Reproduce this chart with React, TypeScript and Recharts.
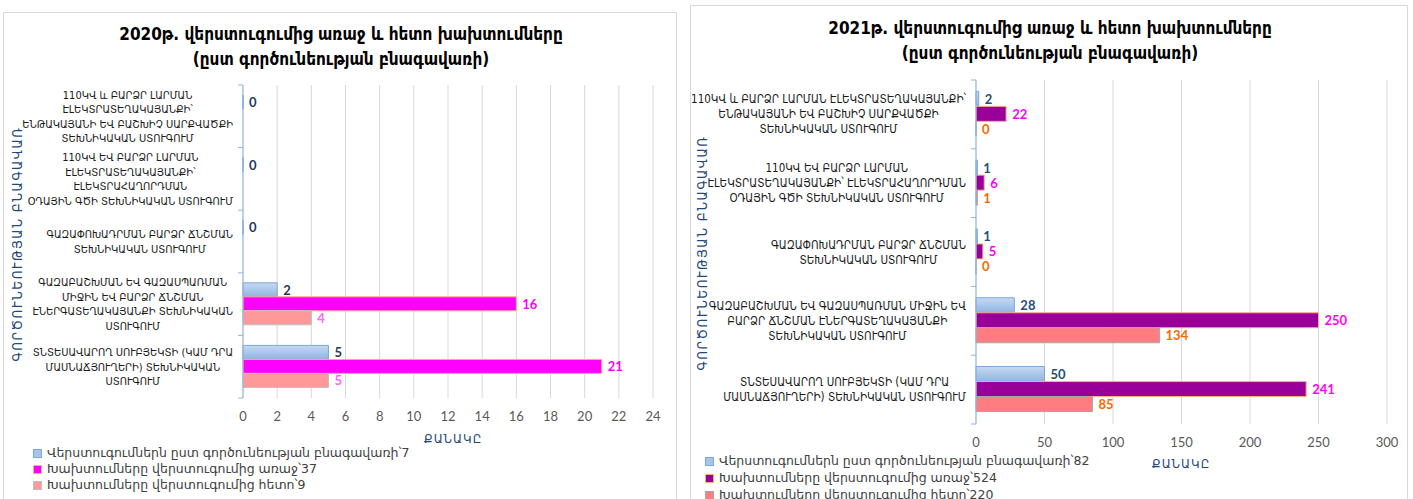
import React from 'react';
import { BarChart, Bar, XAxis, YAxis, CartesianGrid, LabelList } from 'recharts';

// ---------- DATA ----------
const categories2020 = [
  '110ԿՎ և ԲԱՐՁՐ ԼԱՐՄԱՆ\nԷԼԵԿՏՐԱՏԵՂԱԿԱՅԱՆՔԻ՝\nԵՆԹԱԿԱՅԱՆԻ ԵՎ ԲԱՇԽԻՉ ՍԱՐՔՎԱԾՔԻ\nՏԵԽՆԻԿԱԿԱՆ ՍՏՈՒԳՈՒՄ',
  '110ԿՎ ԵՎ ԲԱՐՁՐ ԼԱՐՄԱՆ\nԷԼԵԿՏՐԱՏԵՂԱԿԱՅԱՆՔԻ՝\nԷԼԵԿՏՐԱՀԱՂՈՐԴՄԱՆ\nՕԴԱՅԻՆ ԳԾԻ ՏԵԽՆԻԿԱԿԱՆ ՍՏՈՒԳՈՒՄ',
  'ԳԱԶԱՓՈԽԱԴՐՄԱՆ ԲԱՐՁՐ ՃՆՇՄԱՆ\nՏԵԽՆԻԿԱԿԱՆ ՍՏՈՒԳՈՒՄ',
  'ԳԱԶԱԲԱՇԽՄԱՆ ԵՎ ԳԱԶԱՍՊԱՌՄԱՆ\nՄԻՋԻՆ ԵՎ ԲԱՐՁՐ ՃՆՇՄԱՆ\nԷՆԵՐԳԱՏԵՂԱԿԱՅԱՆՔԻ ՏԵԽՆԻԿԱԿԱՆ\nՍՏՈՒԳՈՒՄ',
  'ՏՆՏԵՍԱՎԱՐՈՂ ՍՈՒԲՅԵԿՏԻ (ԿԱՄ ԴՐԱ\nՄԱՍՆԱՃՅՈՒՂԵՐԻ) ՏԵԽՆԻԿԱԿԱՆ\nՍՏՈՒԳՈՒՄ',
];
const categories2021 = [
  '110ԿՎ և ԲԱՐՁՐ ԼԱՐՄԱՆ ԷԼԵԿՏՐԱՏԵՂԱԿԱՅԱՆՔԻ՝\nԵՆԹԱԿԱՅԱՆԻ ԵՎ ԲԱՇԽԻՉ ՍԱՐՔՎԱԾՔԻ\nՏԵԽՆԻԿԱԿԱՆ ՍՏՈՒԳՈՒՄ',
  '110ԿՎ ԵՎ ԲԱՐՁՐ ԼԱՐՄԱՆ\nԷԼԵԿՏՐԱՏԵՂԱԿԱՅԱՆՔԻ՝ ԷԼԵԿՏՐԱՀԱՂՈՐԴՄԱՆ\nՕԴԱՅԻՆ ԳԾԻ ՏԵԽՆԻԿԱԿԱՆ ՍՏՈՒԳՈՒՄ',
  'ԳԱԶԱՓՈԽԱԴՐՄԱՆ ԲԱՐՁՐ ՃՆՇՄԱՆ\nՏԵԽՆԻԿԱԿԱՆ ՍՏՈՒԳՈՒՄ',
  'ԳԱԶԱԲԱՇԽՄԱՆ ԵՎ ԳԱԶԱՍՊԱՌՄԱՆ ՄԻՋԻՆ ԵՎ\nԲԱՐՁՐ ՃՆՇՄԱՆ ԷՆԵՐԳԱՏԵՂԱԿԱՅԱՆՔԻ\nՏԵԽՆԻԿԱԿԱՆ ՍՏՈՒԳՈՒՄ',
  'ՏՆՏԵՍԱՎԱՐՈՂ ՍՈՒԲՅԵԿՏԻ (ԿԱՄ ԴՐԱ\nՄԱՍՆԱՃՅՈՒՂԵՐԻ) ՏԵԽՆԻԿԱԿԱՆ ՍՏՈՒԳՈՒՄ',
];

const checks2020: (number | null)[] = [0, 0, 0, 2, 5];
const before2020: (number | null)[] = [null, null, null, 16, 21];
const after2020: (number | null)[] = [null, null, null, 4, 5];

const checks2021: (number | null)[] = [2, 1, 1, 28, 50];
const before2021: (number | null)[] = [22, 6, 5, 250, 241];
const after2021: (number | null)[] = [0, 1, 0, 134, 85];

const legend2020 = [
  'Վերստուգումներն ըստ գործունեության բնագավառի՝7',
  'Խախտումները վերստուգումից առաջ՝37',
  'Խախտումները վերստուգումից հետո՝9',
];
const legend2021 = [
  'Վերստուգումներն ըստ գործունեության բնագավառի՝82',
  'Խախտումները վերստուգումից առաջ՝524',
  'Խախտումները վերստուգումից հետո՝220',
];

const ticks2020 = [0, 2, 4, 6, 8, 10, 12, 14, 16, 18, 20, 22, 24];
const ticks2021 = [0, 50, 100, 150, 200, 250, 300];

const title2020 = ['2020թ. վերստուգումից առաջ և հետո խախտումները', '(ըստ գործունեության  բնագավառի)'];
const title2021 = ['2021թ. վերստուգումից առաջ և հետո խախտումները', '(ըստ գործունեության  բնագավառի)'];
const yTitle = 'ԳՈՐԾՈՒՆԵՈՒԹՅԱՆ ԲՆԱԳԱՎԱՌ';
const xTitle = 'ՔԱՆԱԿԸ';

// ---------- STYLE ----------
const ARM_FONT = '"DejaVu Sans Condensed", "DejaVu Sans", sans-serif';
const NUM_FONT = 'Lato, "Open Sans", sans-serif';

let measureCtx: CanvasRenderingContext2D | null = null;
function measure(text: string, font: string): number {
  if (!measureCtx) {
    const c = document.createElement('canvas');
    measureCtx = c.getContext('2d');
  }
  if (!measureCtx) return text.length * 7;
  measureCtx.font = font;
  return measureCtx.measureText(text).width;
}

function makeCatTick(cfg: { fontSize: number; lineH: number; band: number; gap: number; count: number }) {
  return (props: any) => {
    const { x, y, payload, index } = props;
    const lines = String(payload.value).split('\n');
    const font = `${cfg.fontSize}px "DejaVu Sans Condensed"`;
    const w = Math.max(...lines.map((l) => measure(l, font)));
    const axisX = x;
    const cx = axisX - cfg.gap - w / 2;
    const startY = y - ((lines.length - 1) * cfg.lineH) / 2;
    const half = cfg.band / 2;
    return (
      <g>
        <line x1={axisX - 5} x2={axisX} y1={y - half} y2={y - half} stroke="#8EB4E3" />
        {index === cfg.count - 1 && (
          <line x1={axisX - 5} x2={axisX} y1={y + half} y2={y + half} stroke="#8EB4E3" />
        )}
        <text
          x={cx}
          y={startY}
          textAnchor="middle"
          dominantBaseline="central"
          fontFamily={ARM_FONT}
          fontSize={cfg.fontSize}
          fill="#1A1A1A"
        >
          {lines.map((l, i) => (
            <tspan key={i} x={cx} y={startY + i * cfg.lineH}>
              {l}
            </tspan>
          ))}
        </text>
      </g>
    );
  };
}

function makeValueLabel(color: string) {
  return (props: any) => {
    const { x, y, width, height, value } = props;
    if (value === null || value === undefined || value === '') return null;
    const vx = Number(x) + Math.max(0, Number(width) || 0) + 6;
    const vy = Number(y) + (Number(height) || 0) / 2;
    return (
      <text
        x={vx}
        y={vy}
        dominantBaseline="central"
        fill={color}
        fontFamily={NUM_FONT}
        fontWeight={700}
        fontSize={13}
      >
        {value}
      </text>
    );
  };
}

// zero values keep a hairline rectangle so their value label is still drawn
const zeroMin = (v: any) => (v === 0 ? 0.01 : 0);

type PanelProps = {
  left: number;
  top: number;
  width: number;
  height: number;
  categories: string[];
  checks: (number | null)[];
  before: (number | null)[];
  after: (number | null)[];
  ticks: number[];
  title: string[];
  legend: string[];
  colors: { blueLabel: string; before: string; beforeStroke: string; beforeLabel: string; after: string; afterStroke: string; afterLabel: string };
  yAxisWidth: number;
  margin: { top: number; right: number; bottom: number; left: number };
  xAxisHeight: number;
  catGap: string;
  catFont: number;
  tickLineH: number;
  titleY: number[];
  yTitlePos: { x: number; y: number };
  xTitlePos: { x: number; y: number };
  legendPos: { x: number; y: number; step: number };
  gid: string;
};

function Panel(p: PanelProps) {
  const data = p.categories.map((c, i) => ({
    cat: c,
    checks: p.checks[i],
    before: p.before[i],
    after: p.after[i],
  }));
  const plotH = p.height - p.margin.top - p.margin.bottom - p.xAxisHeight;
  const band = plotH / p.categories.length;
  const tick = makeCatTick({ fontSize: p.catFont, lineH: p.tickLineH, band, gap: 10, count: p.categories.length });
  const legendSwatch = ['#A7C4EA', p.colors.before, p.colors.after];
  const legendStroke = ['#7BA7DC', p.colors.beforeStroke, p.colors.afterStroke];
  return (
    <div
      style={{
        position: 'absolute',
        left: p.left,
        top: p.top,
        width: p.width,
        height: p.height,
        border: '1px solid #D9D9D9',
        boxSizing: 'border-box',
        background: '#FFFFFF',
        overflow: 'hidden',
      }}
    >
      {p.title.map((t, i) => (
        <div
          key={i}
          style={{
            position: 'absolute',
            left: 0,
            width: p.width,
            top: p.titleY[i] - 11,
            height: 22,
            lineHeight: '22px',
            textAlign: 'center',
            fontFamily: ARM_FONT,
            fontWeight: 700,
            fontSize: 17,
            color: '#000000',
            whiteSpace: 'nowrap',
          }}
        >
          {t}
        </div>
      ))}
      <div style={{ position: 'absolute', left: -1, top: -1 }}>
        <BarChart
          width={p.width}
          height={p.height}
          data={data}
          layout="vertical"
          margin={p.margin}
          barCategoryGap={p.catGap}
          barGap={0}
        >
          <defs>
            <linearGradient id={p.gid} x1="0" y1="0" x2="0" y2="1">
              <stop offset="0%" stopColor="#C6D9F1" />
              <stop offset="100%" stopColor="#8FB4E3" />
            </linearGradient>
          </defs>
          <CartesianGrid horizontal={false} stroke="#D9D9D9" />
          <XAxis
            type="number"
            domain={[p.ticks[0], p.ticks[p.ticks.length - 1]]}
            ticks={p.ticks}
            interval={0}
            axisLine={false}
            tickLine={false}
            tickSize={0}
            tickMargin={14}
            height={p.xAxisHeight}
            tick={{ fontFamily: NUM_FONT, fontSize: 13, fill: '#595959' }}
          />
          <YAxis
            type="category"
            dataKey="cat"
            width={p.yAxisWidth}
            axisLine={{ stroke: '#8EB4E3' }}
            tickLine={false}
            tickSize={0}
            tickMargin={0}
            interval={0}
            tick={tick}
          />
          <Bar dataKey="checks" fill={`url(#${p.gid})`} stroke="#7BA7DC" strokeWidth={1} minPointSize={zeroMin} isAnimationActive={false}>
            <LabelList dataKey="checks" content={makeValueLabel(p.colors.blueLabel)} />
          </Bar>
          <Bar dataKey="before" fill={p.colors.before} stroke={p.colors.beforeStroke} strokeWidth={1} minPointSize={zeroMin} isAnimationActive={false}>
            <LabelList dataKey="before" content={makeValueLabel(p.colors.beforeLabel)} />
          </Bar>
          <Bar dataKey="after" fill={p.colors.after} stroke={p.colors.afterStroke} strokeWidth={1} minPointSize={zeroMin} isAnimationActive={false}>
            <LabelList dataKey="after" content={makeValueLabel(p.colors.afterLabel)} />
          </Bar>
        </BarChart>
      </div>
      <div
        style={{
          position: 'absolute',
          left: p.yTitlePos.x - 130,
          top: p.yTitlePos.y - 8,
          width: 260,
          height: 16,
          lineHeight: '16px',
          textAlign: 'center',
          transform: 'rotate(-90deg)',
          fontFamily: ARM_FONT,
          fontSize: 13.5,
          letterSpacing: 1.5,
          color: '#1F497D',
          whiteSpace: 'nowrap',
        }}
      >
        {yTitle}
      </div>
      <div
        style={{
          position: 'absolute',
          left: p.xTitlePos.x - 60,
          top: p.xTitlePos.y - 8,
          width: 120,
          height: 16,
          lineHeight: '16px',
          textAlign: 'center',
          fontFamily: ARM_FONT,
          fontSize: 13,
          letterSpacing: 1,
          color: '#1F497D',
        }}
      >
        {xTitle}
      </div>
      {p.legend.map((t, i) => (
        <div
          key={i}
          style={{
            position: 'absolute',
            left: p.legendPos.x,
            top: p.legendPos.y + i * p.legendPos.step - 8,
            height: 16,
            lineHeight: '16px',
            display: 'flex',
            alignItems: 'center',
            whiteSpace: 'nowrap',
          }}
        >
          <span
            style={{
              display: 'inline-block',
              width: 7,
              height: 7,
              background: legendSwatch[i],
              border: `1px solid ${legendStroke[i]}`,
              marginRight: 5,
            }}
          />
          <span style={{ fontFamily: '"DejaVu Sans", sans-serif', fontSize: 12.5, color: '#404040' }}>{t}</span>
        </div>
      ))}
    </div>
  );
}

export default function App() {
  return (
    <div style={{ position: 'absolute', left: 0, top: 0, width: 1413, height: 499, background: '#FFFFFF', overflow: 'hidden' }}>
      <Panel
        left={3}
        top={12}
        width={674}
        height={500}
        categories={categories2020}
        checks={checks2020}
        before={before2020}
        after={after2020}
        ticks={ticks2020}
        title={title2020}
        legend={legend2020}
        colors={{
          blueLabel: '#1F3864',
          before: '#FF00FF',
          beforeStroke: '#F4B183',
          beforeLabel: '#FF00FF',
          after: '#FF9999',
          afterStroke: '#BFBFBF',
          afterLabel: '#FF66FF',
        }}
        yAxisWidth={230}
        margin={{ top: 73, right: 24, bottom: 74, left: 10 }}
        xAxisHeight={40}
        catGap="16%"
        catFont={11}
        tickLineH={14.5}
        titleY={[21, 46]}
        yTitlePos={{ x: 13, y: 231 }}
        xTitlePos={{ x: 449, y: 426 }}
        legendPos={{ x: 29, y: 440, step: 16 }}
        gid="blueGrad2020"
      />
      <Panel
        left={690}
        top={5}
        width={718}
        height={500}
        categories={categories2021}
        checks={checks2021}
        before={before2021}
        after={after2021}
        ticks={ticks2021}
        title={title2021}
        legend={legend2021}
        colors={{
          blueLabel: '#1F4E79',
          before: '#990099',
          beforeStroke: '#F4B183',
          beforeLabel: '#FF00FF',
          after: '#FF7C80',
          afterStroke: '#A6A6A6',
          afterLabel: '#FF6600',
        }}
        yAxisWidth={276}
        margin={{ top: 75, right: 21, bottom: 41, left: 10 }}
        xAxisHeight={40}
        catGap="16.5%"
        catFont={11.5}
        tickLineH={15}
        titleY={[22, 47]}
        yTitlePos={{ x: 11, y: 247 }}
        xTitlePos={{ x: 490, y: 458 }}
        legendPos={{ x: 14, y: 455, step: 17 }}
        gid="blueGrad2021"
      />
    </div>
  );
}
